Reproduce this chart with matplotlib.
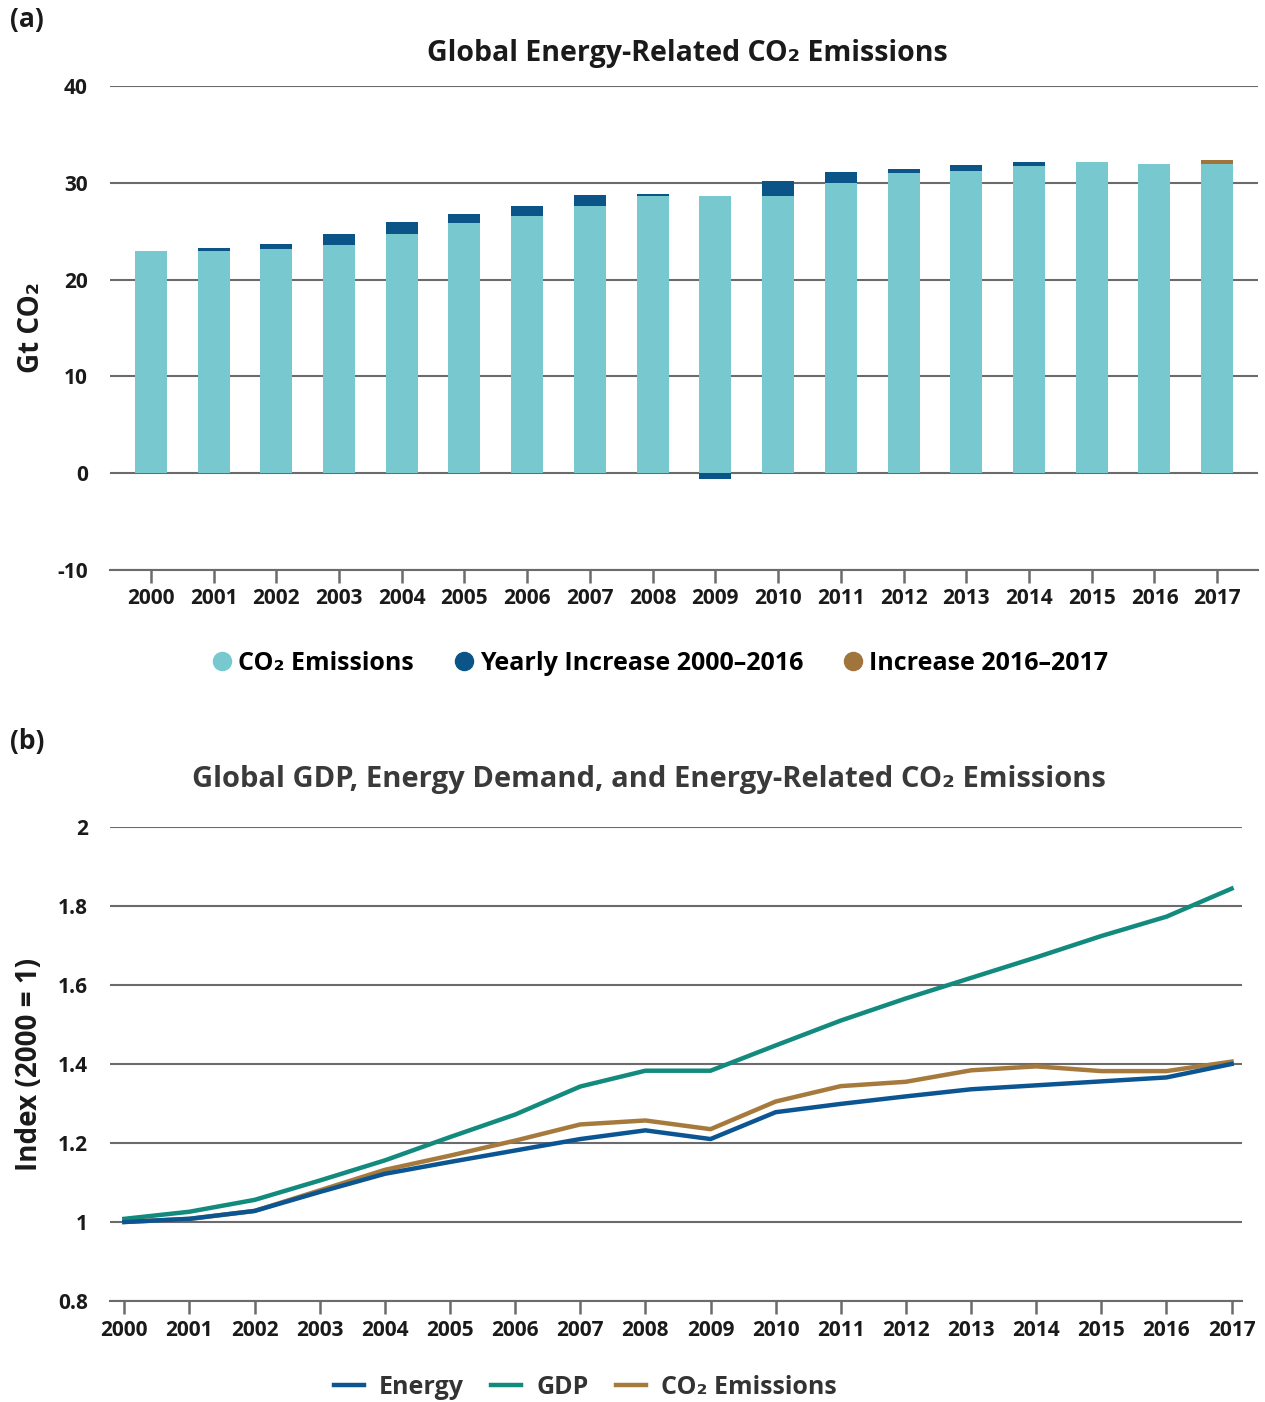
import numpy as np
import matplotlib
matplotlib.use("Agg")
import matplotlib.pyplot as plt
from matplotlib.lines import Line2D

plt.rcParams['font.family'] = ['Open Sans', 'DejaVu Sans']
plt.rcParams['axes.unicode_minus'] = False

SUB2 = '\u2082'

# ---- data: panel (a) ----
years = [str(y) for y in range(2000, 2018)]
base_emissions = [23.0, 23.0, 23.2, 23.6, 24.7, 25.8, 26.6, 27.6, 28.6, 28.6,
                  28.6, 30.0, 31.0, 31.2, 31.7, 32.1, 31.9, 31.9]
yearly_increase = [0.0, 0.3, 0.5, 1.1, 1.2, 1.0, 1.0, 1.1, 0.2, -0.6,
                   1.6, 1.1, 0.4, 0.6, 0.4, 0.0, 0.0, 0.0]
increase_2017 = [0.0] * 17 + [0.5]

# ---- data: panel (b) ----
line_years = list(range(2000, 2018))
energy = [1.000, 1.008, 1.028, 1.076, 1.122, 1.152, 1.181, 1.210, 1.232, 1.210,
          1.278, 1.299, 1.318, 1.336, 1.346, 1.356, 1.366, 1.400]
gdp = [1.008, 1.026, 1.056, 1.105, 1.156, 1.215, 1.272, 1.343, 1.383, 1.383,
       1.447, 1.510, 1.566, 1.618, 1.670, 1.724, 1.773, 1.844]
co2 = [1.000, 1.008, 1.028, 1.080, 1.132, 1.168, 1.206, 1.247, 1.257, 1.235,
       1.305, 1.344, 1.355, 1.384, 1.394, 1.382, 1.382, 1.406]

LIGHT = '#78c9cf'
DARK = '#0b5488'
BROWN = '#a0743a'
GRID = '#6b6b6b'
TXT = '#1a1a1a'

fig = plt.figure(figsize=(12.65, 14.02), dpi=100)

# ---------------- panel (a) ----------------
ax1 = fig.add_axes([110 / 1265, 1 - 570 / 1402, 1148 / 1265, 484 / 1402])
x = np.arange(len(years))
w = 0.51
ax1.bar(x, base_emissions, w, color=LIGHT, zorder=3)
inc_bottom = [b if v >= 0 else 0 for b, v in zip(base_emissions, yearly_increase)]
ax1.bar(x, yearly_increase, w, bottom=inc_bottom, color=DARK, zorder=3)
ax1.bar(x, increase_2017, w, bottom=base_emissions, color=BROWN, zorder=3)

ax1.set_xlim(-0.65, 17.65)
ax1.set_ylim(-10, 40)
ax1.set_yticks([-10, 0, 10, 20, 30, 40])
ax1.yaxis.grid(True, color=GRID, linewidth=1.5, zorder=1)
ax1.set_xticks(x)
ax1.set_xticklabels(years)
for s in ['top', 'right', 'left']:
    ax1.spines[s].set_visible(False)
ax1.spines['bottom'].set_color(GRID)
ax1.spines['bottom'].set_linewidth(1.5)
ax1.tick_params(axis='y', length=0, pad=16, labelsize=15, labelcolor=TXT)
ax1.tick_params(axis='x', length=9, width=1.8, color=GRID, pad=4, labelsize=15, labelcolor=TXT)
for lab in ax1.get_xticklabels() + ax1.get_yticklabels():
    lab.set_fontweight('bold')
ax1.set_ylabel('Gt CO' + SUB2, fontsize=20, fontweight='bold', color=TXT, labelpad=8)
ax1.set_title('Global Energy-Related CO' + SUB2 + ' Emissions', fontsize=20.5, fontweight='bold',
              color=TXT, pad=18, x=0.503)

handles1 = [Line2D([], [], marker='o', linestyle='', markersize=13, color=c)
            for c in (LIGHT, DARK, BROWN)]
fig.legend(handles1, ['CO' + SUB2 + ' Emissions', 'Yearly Increase 2000\u20132016', 'Increase 2016\u20132017'],
           loc='center', bbox_to_anchor=(660 / 1265, 1 - 663 / 1402), ncol=3, frameon=False,
           prop={'size': 18, 'weight': 'bold'}, handlelength=0.8, handletextpad=0.25,
           columnspacing=1.6)

fig.text(10 / 1265, 1 - 20 / 1402, '(a)', fontsize=19, fontweight='bold', color=TXT, va='center')

# ---------------- panel (b) ----------------
ax2 = fig.add_axes([110 / 1265, 1 - 1301 / 1402, 1132 / 1265, 474 / 1402])
ax2.plot(line_years, energy, color='#0b5592', linewidth=3.2, zorder=4)
ax2.plot(line_years, gdp, color='#128a7d', linewidth=3.2, zorder=3)
ax2.plot(line_years, co2, color='#a67a3d', linewidth=3.2, zorder=3.5)
ax2.set_xlim(2000 - 0.22, 2017 + 0.16)
ax2.set_ylim(0.8, 2.0)
ax2.set_yticks([0.8, 1.0, 1.2, 1.4, 1.6, 1.8, 2.0])
ax2.set_yticklabels(['0.8', '1', '1.2', '1.4', '1.6', '1.8', '2'])
ax2.set_xticks(line_years)
ax2.set_xticklabels([str(y) for y in line_years])
ax2.yaxis.grid(True, color=GRID, linewidth=1.5, zorder=1)
for s in ['top', 'right', 'left']:
    ax2.spines[s].set_visible(False)
ax2.spines['bottom'].set_color(GRID)
ax2.spines['bottom'].set_linewidth(1.5)
ax2.tick_params(axis='y', length=0, pad=16, labelsize=15, labelcolor=TXT)
ax2.tick_params(axis='x', length=9, width=1.8, color=GRID, pad=5, labelsize=15, labelcolor=TXT)
for lab in ax2.get_xticklabels() + ax2.get_yticklabels():
    lab.set_fontweight('bold')
ax2.set_ylabel('Index (2000 = 1)', fontsize=20, fontweight='bold', color=TXT, labelpad=10)
ax2.set_title('Global GDP, Energy Demand, and Energy-Related CO' + SUB2 + ' Emissions', fontsize=21,
              fontweight='bold', color='#3a3a3a', pad=29, x=0.476)

handles2 = [Line2D([], [], color=c, linewidth=3.2) for c in ('#0b5592', '#128a7d', '#a67a3d')]
fig.legend(handles2, ['Energy', 'GDP', 'CO' + SUB2 + ' Emissions'],
           loc='center', bbox_to_anchor=(585 / 1265, 1 - 1387 / 1402), ncol=3, frameon=False,
           prop={'size': 18, 'weight': 'bold'}, handlelength=1.2, handletextpad=0.6,
           columnspacing=1.1, labelcolor='#333333')

fig.text(10 / 1265, 1 - 742 / 1402, '(b)', fontsize=19, fontweight='bold', color=TXT, va='center')

fig.savefig('out.png', dpi=100, facecolor='white')
